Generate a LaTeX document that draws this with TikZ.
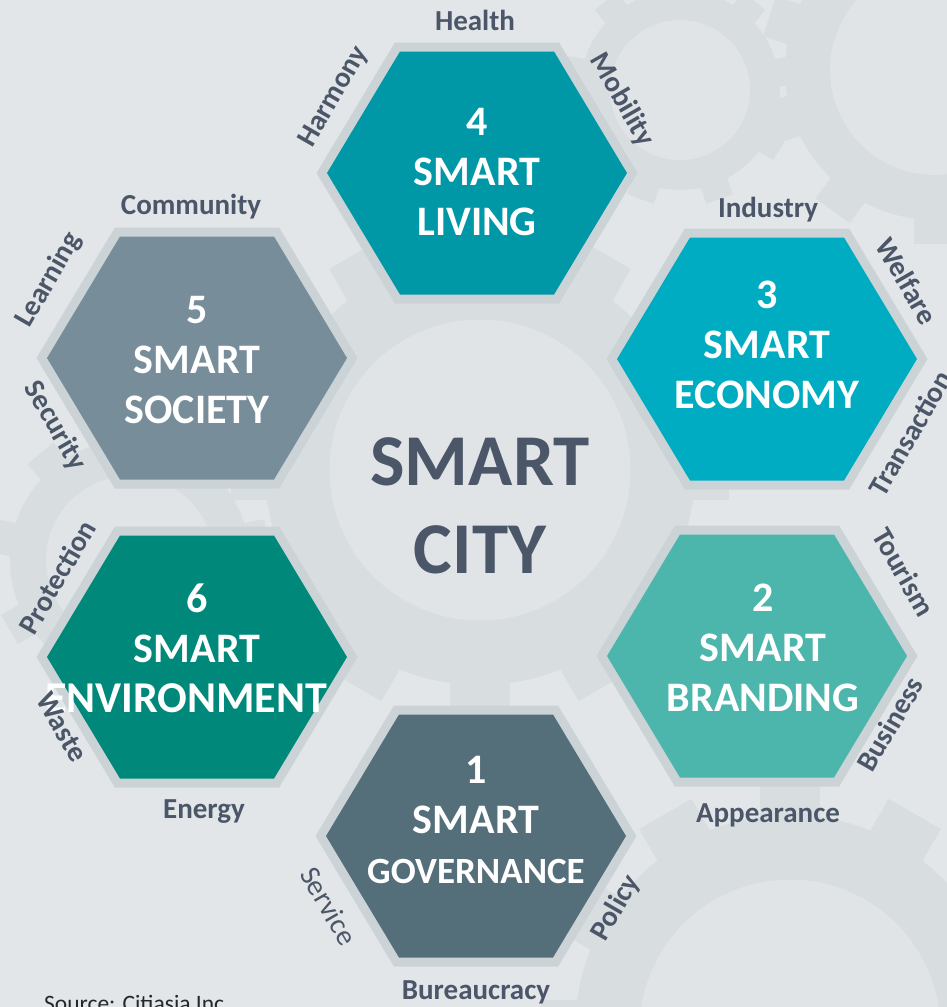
\documentclass[tikz,border=0pt]{standalone}
\usepackage{fontspec}
\setmainfont{Carlito}

\definecolor{bgcol}{HTML}{E2E6E8}
\definecolor{gearcol}{HTML}{D8DDE0}
\definecolor{holecol}{HTML}{E0E4E6}
\definecolor{rimcol}{HTML}{CCD3D7}
\definecolor{txtcol}{HTML}{4B5668}
\definecolor{livingcol}{HTML}{0097A7}
\definecolor{societycol}{HTML}{778D99}
\definecolor{economycol}{HTML}{00ACC1}
\definecolor{envcol}{HTML}{00897B}
\definecolor{brandcol}{HTML}{4DB6AC}
\definecolor{govcol}{HTML}{546E7A}

\tikzset{
  hextext/.style={align=center, text=white, font=\fontsize{42}{50}\selectfont\bfseries},
  aspect/.style={text=txtcol, font=\fontsize{29}{32}\selectfont\bfseries, inner sep=0pt},
  citytext/.style={align=center, text=txtcol, font=\fontsize{73}{88}\selectfont\bfseries},
}

% #1,#2 centre, #3 radius, #4 teeth
\newcommand{\gear}[4]{%
  \fill[gearcol] (#1,#2) circle (#3);
  \foreach \k in {1,...,#4} {
    \fill[gearcol, rotate around={360/#4*\k:(#1,#2)}]
      (#1-0.14*#3,#2) rectangle (#1+0.14*#3,#2-1.16*#3);
  }
  \fill[holecol] (#1,#2) circle (0.7*#3);
}

\begin{document}
\begin{tikzpicture}[x=1pt,y=-1pt]
  \fill[bgcol] (0,0) rectangle (947,1007);
  \useasboundingbox (0,0) rectangle (947,1007);

  % faint gears behind
  \gear{935}{70}{150}{10}
  \gear{680}{90}{100}{9}
  \gear{480}{470}{215}{12}
  \gear{790}{1030}{215}{12}
  \gear{130}{560}{120}{9}

  % hexagons: rim first, then fill
  \def\hw{150} \def\he{77} \def\hh{121.5}
  \foreach \cx/\cy/\col in {477/173/livingcol, 197/358/societycol, 767/359/economycol,
                            197/657/envcol, 757/656/brandcol, 476/836/govcol} {
    \draw[rimcol, line width=18pt, line join=miter]
      (\cx-\hw,\cy) -- (\cx-\he,\cy-\hh) -- (\cx+\he,\cy-\hh) -- (\cx+\hw,\cy)
      -- (\cx+\he,\cy+\hh) -- (\cx-\he,\cy+\hh) -- cycle;
    \fill[\col]
      (\cx-\hw,\cy) -- (\cx-\he,\cy-\hh) -- (\cx+\he,\cy-\hh) -- (\cx+\hw,\cy)
      -- (\cx+\he,\cy+\hh) -- (\cx-\he,\cy+\hh) -- cycle;
  }

  % hexagon titles
  \node[hextext] (living)  at (477,172) {4\\SMART\\LIVING};
  \node[hextext] (society) at (197,360) {5\\SMART\\SOCIETY};
  \node[hextext] (economy) at (767,345) {3\\SMART\\ECONOMY};
  \node[hextext] (environment) at (197,648) {6\\SMART\\{\fontsize{44}{50}\selectfont ENVIRONMENT\kern22pt}};
  \node[hextext] (branding) at (763,648) {2\\SMART\\BRANDING};
  \node[hextext] (governance) at (476,820) {1\\SMART\\{\fontsize{37}{50}\selectfont GOVERNANCE}};

  \node[citytext] (city) at (480,506) {SMART\\CITY};

  % aspects round each hexagon
  \node[aspect] (health)      at (475,20)  {Health};
  \node[aspect, rotate=60]  (harmony)  at (334,97)  {Harmony};
  \node[aspect, rotate=-60] (mobility) at (622,100) {Mobility};
  \node[aspect] (community)   at (191,207) {Community};
  \node[aspect, rotate=60]  (learning) at (49,280)  {Learning};
  \node[aspect, rotate=-60] (security) at (55,426)  {Security};
  \node[aspect] (industry)    at (768,210) {Industry};
  \node[aspect, rotate=-60] (welfare)  at (907,281) {Welfare};
  \node[aspect, rotate=60]  (transaction) at (910,433) {Transaction};
  \node[aspect, rotate=60]  (protection)  at (57,577)  {Protection};
  \node[aspect, rotate=-60] (waste)    at (62,727)  {Waste};
  \node[aspect] (energy)      at (204,812) {Energy};
  \node[aspect, rotate=-60] (tourism)  at (904,572) {Tourism};
  \node[aspect, rotate=60]  (business) at (890,724) {Business};
  \node[aspect] (appearance)  at (768,815) {Appearance};
  \node[aspect, rotate=-60, font=\fontsize{29}{32}\selectfont] (service) at (329,906) {Service};
  \node[aspect, rotate=60]  (policy)   at (616,908) {Policy};
  \node[aspect] (bureaucracy) at (476,992) {Bureaucracy};

  \node[anchor=base west, inner sep=0pt, text=black!85, font=\fontsize{23.5}{26}\selectfont] (source)
    at (44,1011) {Source: Citiasia Inc};
\end{tikzpicture}
\end{document}
